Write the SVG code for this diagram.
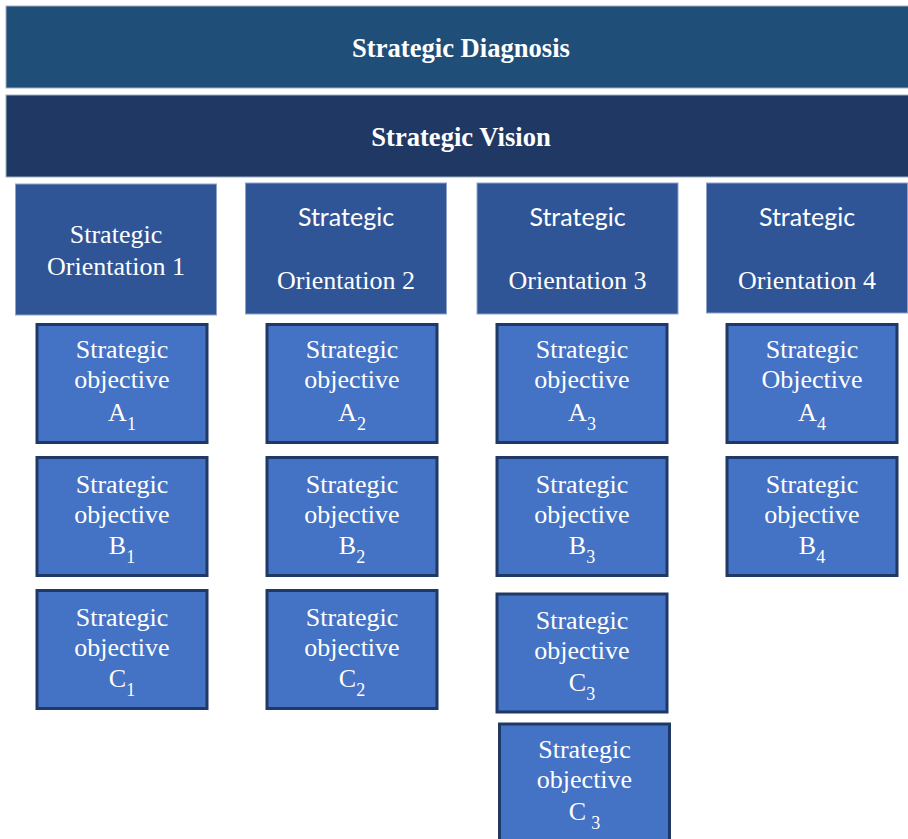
<svg xmlns="http://www.w3.org/2000/svg" width="908" height="839" viewBox="0 0 908 839">
<style>
.bn{stroke:#9FB0C6;stroke-width:1}
.or{fill:#2F5597;stroke:#8FA3C8;stroke-width:1}
.ob{fill:#4472C4;stroke:#1F3864;stroke-width:3}
.h{font-family:'Liberation Serif','Times New Roman',serif;font-weight:bold;font-size:26.6px;fill:#FFFFFF;text-anchor:middle}
.s{font-family:'Liberation Serif','Times New Roman',serif;font-size:26px;fill:#FFFFFF;text-anchor:middle}
.ss{font-family:Lato,'Liberation Sans',sans-serif;font-size:25px;fill:#FFFFFF;text-anchor:middle}
.sub{font-size:18px}
</style>
<rect width="908" height="839" fill="#FFFFFF"/>
<g id="diagnosis">
<rect class="bn" x="6" y="6" width="912" height="82" fill="#1F4E79"/>
<text class="h" x="461" y="57">Strategic Diagnosis</text>
</g>
<g id="vision">
<rect class="bn" x="6" y="95" width="912" height="82" fill="#203864"/>
<text class="h" x="461" y="146">Strategic Vision</text>
</g>
<g id="orientation1">
<rect class="or" x="15.5" y="184" width="201" height="131"/>
<text class="s" x="116" y="243">Strategic</text>
<text class="s" x="116" y="275">Orientation 1</text>
</g>
<g id="orientation2">
<rect class="or" x="245.5" y="183" width="201" height="131"/>
<text class="ss" x="346" y="226">Strategic</text>
<text class="s" x="346" y="289">Orientation 2</text>
</g>
<g id="orientation3">
<rect class="or" x="477" y="183" width="201" height="131"/>
<text class="ss" x="577.5" y="226">Strategic</text>
<text class="s" x="577.5" y="289">Orientation 3</text>
</g>
<g id="orientation4">
<rect class="or" x="706.5" y="183" width="201" height="130"/>
<text class="ss" x="807" y="226">Strategic</text>
<text class="s" x="807" y="289">Orientation 4</text>
</g>
<g id="objA1">
<rect class="ob" x="37" y="324.5" width="170" height="118"/>
<text class="s" x="122" y="358">Strategic</text>
<text class="s" x="122" y="388">objective</text>
<text class="s" x="122" y="421">A<tspan class="sub" dy="9">1</tspan></text>
</g>
<g id="objB1">
<rect class="ob" x="37" y="457.5" width="170" height="118"/>
<text class="s" x="122" y="493">Strategic</text>
<text class="s" x="122" y="523">objective</text>
<text class="s" x="122" y="554">B<tspan class="sub" dy="9">1</tspan></text>
</g>
<g id="objC1">
<rect class="ob" x="37" y="590.5" width="170" height="118"/>
<text class="s" x="122" y="626">Strategic</text>
<text class="s" x="122" y="656">objective</text>
<text class="s" x="122" y="687">C<tspan class="sub" dy="9">1</tspan></text>
</g>
<g id="objA2">
<rect class="ob" x="267" y="324.5" width="170" height="118"/>
<text class="s" x="352" y="358">Strategic</text>
<text class="s" x="352" y="388">objective</text>
<text class="s" x="352" y="421">A<tspan class="sub" dy="9">2</tspan></text>
</g>
<g id="objB2">
<rect class="ob" x="267" y="457.5" width="170" height="118"/>
<text class="s" x="352" y="493">Strategic</text>
<text class="s" x="352" y="523">objective</text>
<text class="s" x="352" y="554">B<tspan class="sub" dy="9">2</tspan></text>
</g>
<g id="objC2">
<rect class="ob" x="267" y="590.5" width="170" height="118"/>
<text class="s" x="352" y="626">Strategic</text>
<text class="s" x="352" y="656">objective</text>
<text class="s" x="352" y="687">C<tspan class="sub" dy="9">2</tspan></text>
</g>
<g id="objA3">
<rect class="ob" x="497" y="324.5" width="170" height="118"/>
<text class="s" x="582" y="358">Strategic</text>
<text class="s" x="582" y="388">objective</text>
<text class="s" x="582" y="421">A<tspan class="sub" dy="9">3</tspan></text>
</g>
<g id="objB3">
<rect class="ob" x="497" y="457.5" width="170" height="118"/>
<text class="s" x="582" y="493">Strategic</text>
<text class="s" x="582" y="523">objective</text>
<text class="s" x="582" y="554">B<tspan class="sub" dy="9">3</tspan></text>
</g>
<g id="objC3">
<rect class="ob" x="497" y="594" width="170" height="118"/>
<text class="s" x="582" y="629">Strategic</text>
<text class="s" x="582" y="659">objective</text>
<text class="s" x="582" y="691">C<tspan class="sub" dy="9">3</tspan></text>
</g>
<g id="objC3b">
<rect class="ob" x="499.5" y="724" width="170" height="125"/>
<text class="s" x="584.5" y="758">Strategic</text>
<text class="s" x="584.5" y="788">objective</text>
<text class="s" x="584.5" y="820">C<tspan class="sub" dx="5" dy="9">3</tspan></text>
</g>
<g id="objA4">
<rect class="ob" x="727" y="324.5" width="170" height="118"/>
<text class="s" x="812" y="358">Strategic</text>
<text class="s" x="812" y="388">Objective</text>
<text class="s" x="812" y="421">A<tspan class="sub" dy="9">4</tspan></text>
</g>
<g id="objB4">
<rect class="ob" x="727" y="457.5" width="170" height="118"/>
<text class="s" x="812" y="493">Strategic</text>
<text class="s" x="812" y="523">objective</text>
<text class="s" x="812" y="554">B<tspan class="sub" dy="9">4</tspan></text>
</g>
<g id="connectors"></g>
</svg>
